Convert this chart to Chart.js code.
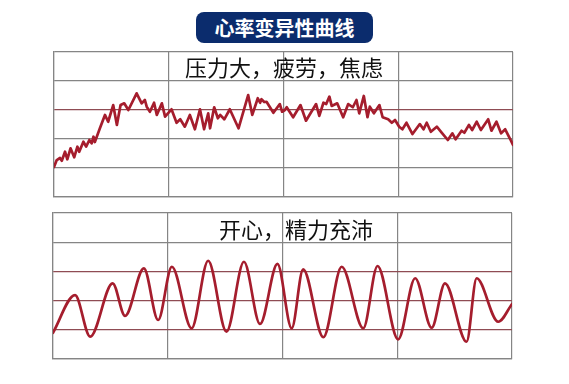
<!DOCTYPE html>
<html lang="zh-CN">
<head>
  <meta charset="UTF-8">
  <title>心率变异性曲线</title>
  <script src="https://cdn.jsdelivr.net/npm/chart.js"></script>
  <style>
    body {
      margin: 0;
      width: 569px;
      height: 384px;
      background: #fff;
      position: relative;
      overflow: hidden;
      font-family: "Noto Sans CJK SC", "Noto Sans", sans-serif;
    }
    .titulo {
      position: absolute;
      left: 196px;
      top: 12px;
      width: 177px;
      height: 31px;
      background: #0b2c6d;
      border-radius: 8px;
      color: #fff;
      font-size: 20px;
      font-weight: 700;
      line-height: 31px;
      text-align: center;
    }
    .rotulo {
      position: absolute;
      font-size: 22px;
      color: #111;
      line-height: 24px;
      white-space: nowrap;
      transform: translateX(-50%);
    }
    canvas {
      position: absolute;
    }
  </style>
</head>
<body>

<div class="titulo">心率变异性曲线</div>

<canvas id="graficoEstresse" width="467" height="153" style="left:50px; top:48px;"></canvas>
<canvas id="graficoCalmo" width="467" height="154" style="left:49px; top:209px;"></canvas>

<div class="rotulo" style="left:284px; top:54px;">压力大，疲劳，焦虑</div>
<div class="rotulo" style="left:296px; top:216px;">开心，精力充沛</div>

<script>
  // curva de cima: estresse (x em % do tempo, y em % da altura)
  const estresseX = [0, 0.6, 1.3, 1.7, 2.4, 2.9, 3.6, 4.4, 5.1, 5.5, 6.4, 7.0, 7.7, 8.2, 8.6, 8.9,
    10.0, 11.1, 11.8, 12.9, 13.7, 14.5, 15.3, 16.2, 18.0, 19.1, 19.8, 20.2, 20.9, 21.8, 22.4, 23.5,
    24.2, 25.6, 26.7, 27.5, 28.5, 29.6, 30.7, 31.8, 32.7, 33.6, 34.0, 34.9, 35.7, 36.2, 37.1, 38.3,
    40.2, 42.3, 43.2, 44.4, 44.9, 45.2, 45.8, 46.3, 47.8, 49.2, 49.7, 50.3, 50.7, 52.1, 53.7, 54.9,
    57.1, 57.8, 58.7, 59.3, 60.0, 60.5, 61.7, 63.0, 64.1, 65.1, 65.9, 66.5, 67.5, 68.3, 68.8, 69.7,
    70.9, 71.6, 72.8, 73.6, 74.3, 75.2, 75.9, 76.8, 78.1, 79.7, 80.5, 81.2, 82.1, 83.4, 84.5, 85.8,
    86.8, 87.5, 88.8, 89.4, 90.4, 91.1, 92.1, 93.0, 94.6, 95.3, 96.4, 97.4, 98.3, 99.3, 100];
  const estresseY = [20.7, 25.5, 26.9, 25.0, 31.2, 26.0, 33.6, 27.4, 34.7, 31.2, 38.1, 34.7, 39.3, 37.0, 41.6, 37.9,
    47.4, 56.6, 51.9, 63.4, 49.7, 63.4, 64.6, 60.0, 71.5, 64.6, 66.9, 62.3, 58.8, 65.0, 56.6, 64.6,
    55.4, 60.5, 51.2, 53.6, 48.5, 56.6, 46.7, 60.5, 46.7, 57.7, 47.4, 61.9, 54.3, 56.6, 53.6, 60.5,
    47.4, 70.3, 56.6, 68.1, 65.0, 67.4, 65.5, 65.7, 58.1, 64.1, 58.8, 60.0, 61.9, 55.0, 63.4, 52.6,
    64.1, 55.9, 65.0, 64.1, 69.2, 62.8, 64.6, 55.0, 64.1, 61.9, 66.9, 57.7, 69.7, 55.0, 62.3, 57.7,
    63.4, 55.0, 53.6, 51.2, 53.1, 48.5, 46.7, 51.2, 43.4, 50.3, 46.7, 51.2, 45.0, 48.5, 44.3, 39.3,
    43.9, 39.8, 45.7, 44.3, 49.7, 46.2, 51.9, 46.2, 53.6, 45.7, 51.9, 43.9, 46.7, 40.5, 35.9];

  // curva de baixo: calmo (picos e vales)
  const calmoX = [0, 4.8, 8.1, 13.0, 15.7, 19.8, 22.9, 25.9, 30.2, 33.8, 37.8, 41.6, 45.1, 48.9,
    52.0, 54.5, 58.9, 62.9, 67.6, 70.7, 75.2, 78.9, 82.5, 85.4, 90.1, 92.3, 97.0, 100];
  const calmoY = [18.0, 43.8, 15.3, 51.8, 29.5, 62.1, 26.7, 63.2, 21.0, 67.3, 18.7, 66.6, 24.0, 65.1,
    21.0, 61.4, 14.9, 63.2, 21.0, 63.7, 13.5, 55.3, 21.4, 51.8, 11.8, 55.3, 25.5, 37.7];

  const COR_LINHA = "#a51d2d";
  const COR_GRADE = "#858585";
  const COR_GRADE_VERMELHA = "#8f4c53";

  function criarGrafico(id, xs, ys, linhasVermelhas, suave) {
    const ctx = document.getElementById(id).getContext("2d");
    return new Chart(ctx, {
      type: "line",
      data: {
        datasets: [{
          data: xs.map((x, i) => ({ x: x, y: ys[i] })),
          borderColor: COR_LINHA,
          borderWidth: 2.7,
          pointRadius: 0,
          tension: suave ? 0.4 : 0,
          cubicInterpolationMode: suave ? "monotone" : "default",
          borderJoinStyle: "round",
          borderCapStyle: "round"
        }]
      },
      options: {
        responsive: false,
        animation: false,
        layout: { padding: 4 },
        plugins: {
          legend: { display: false },
          tooltip: { enabled: false }
        },
        scales: {
          x: {
            type: "linear",
            min: 0,
            max: 100,
            ticks: { display: false, stepSize: 25 },
            grid: { color: COR_GRADE, lineWidth: 1.2, drawTicks: false },
            border: { color: COR_GRADE, width: 1.2 }
          },
          y: {
            min: 0,
            max: 100,
            ticks: { display: false, stepSize: 20 },
            grid: {
              color: c => linhasVermelhas.includes(c.tick.value) ? COR_GRADE_VERMELHA : COR_GRADE,
              lineWidth: 1.2,
              drawTicks: false
            },
            border: { color: COR_GRADE, width: 1.2 }
          }
        }
      }
    });
  }

  criarGrafico("graficoEstresse", estresseX, estresseY, [60], false);
  criarGrafico("graficoCalmo", calmoX, calmoY, [20, 40, 60], true);
</script>

</body>
</html>
